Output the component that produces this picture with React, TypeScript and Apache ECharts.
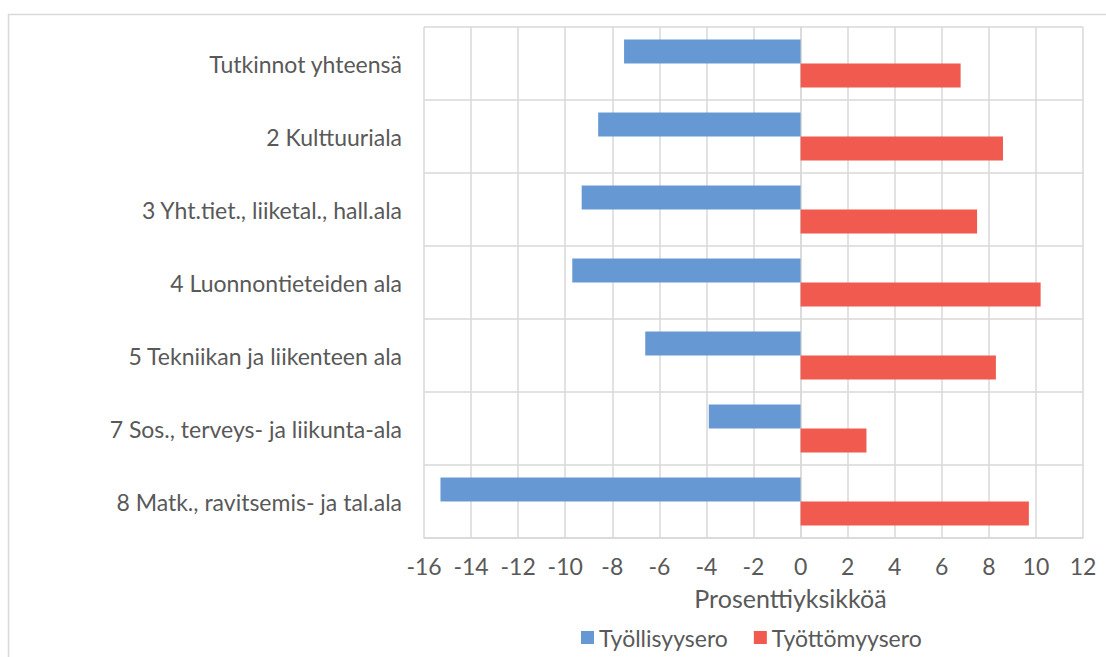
import React, { useEffect, useRef } from "react";
import * as echarts from "echarts";

const categories = [
  "Tutkinnot yhteensä",
  "2 Kulttuuriala",
  "3 Yht.tiet., liiketal., hall.ala",
  "4 Luonnontieteiden ala",
  "5 Tekniikan ja liikenteen ala",
  "7 Sos., terveys- ja liikunta-ala",
  "8 Matk., ravitsemis- ja tal.ala",
];
const tyollisyysero = [-7.5, -8.6, -9.3, -9.7, -6.6, -3.9, -15.3];
const tyottomyysero = [6.8, 8.6, 7.5, 10.2, 8.3, 2.8, 9.7];
const seriesNames = ["Työllisyysero", "Työttömyysero"];
const axisName = "Prosenttiyksikköä";

const FONT = "Lato, 'Liberation Sans', sans-serif";
const FS = 23;
const TXT = "#595959";
const GRID = "#d9d9d9";

export default function App() {
  const ref = useRef<HTMLDivElement>(null);
  useEffect(() => {
    if (!ref.current) return;
    const chart = echarts.init(ref.current, undefined, { renderer: "svg" });
    chart.setOption({
      animation: false,
      backgroundColor: "#fff",
      textStyle: { fontFamily: FONT },
      graphic: [
        {
          type: "rect",
          shape: { x: 8.5, y: 14.5, width: 1200, height: 1000 },
          style: { fill: "none", stroke: GRID, lineWidth: 1.5 },
          silent: true,
          z: -10,
        },
      ],
      grid: { left: 424, right: 23, top: 27, bottom: 119, containLabel: false },
      legend: {
        data: seriesNames,
        left: 576,
        top: 621,
        icon: "rect",
        itemWidth: 13,
        itemHeight: 13,
        itemGap: 26,
        textStyle: { fontFamily: FONT, fontSize: FS, color: TXT },
      },
      xAxis: {
        type: "value",
        min: -16,
        max: 12,
        interval: 2,
        name: axisName,
        nameLocation: "middle",
        nameGap: 47,
        nameTextStyle: {
          fontFamily: FONT,
          fontSize: 25,
          color: TXT,
          padding: [0, 0, 0, 74],
        },
        axisLine: { show: true, lineStyle: { color: GRID, width: 1.5 } },
        axisTick: { show: false },
        axisLabel: { fontFamily: FONT, fontSize: FS, color: TXT, margin: 16 },
        splitLine: { show: true, lineStyle: { color: GRID, width: 1.5 } },
      },
      yAxis: {
        type: "category",
        data: categories,
        inverse: true,
        axisLine: { show: true, lineStyle: { color: GRID, width: 1.5 } },
        axisTick: { show: false },
        axisLabel: { fontFamily: FONT, fontSize: FS, color: TXT, margin: 22 },
        splitLine: { show: true, lineStyle: { color: GRID, width: 1.5 } },
      },
      series: [
        {
          name: seriesNames[0],
          type: "bar",
          data: tyollisyysero,
          itemStyle: { color: "#6699d4" },
          barGap: "0%",
          barCategoryGap: "34%",
        },
        {
          name: seriesNames[1],
          type: "bar",
          data: tyottomyysero,
          itemStyle: { color: "#f15b4f" },
          barGap: "0%",
          barCategoryGap: "34%",
        },
      ],
    });
    return () => chart.dispose();
  }, []);
  return (
    <div
      ref={ref}
      style={{ position: "fixed", left: 0, top: 0, width: 1106, height: 657 }}
    />
  );
}
